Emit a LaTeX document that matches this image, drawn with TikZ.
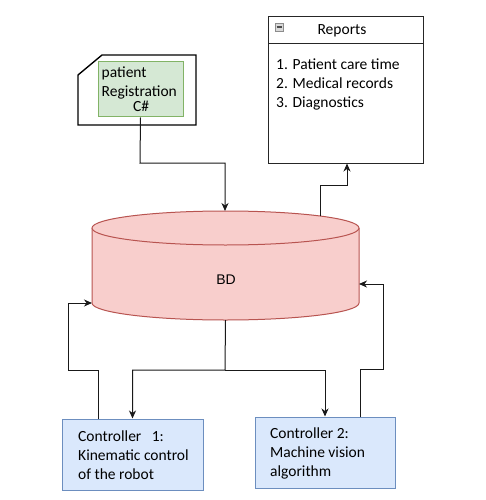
\documentclass[tikz,border=0pt]{standalone}
\usepackage{fontspec}
\setmainfont{Carlito}
\newfontfamily\helv{Liberation Sans}
\usetikzlibrary{arrows.meta,calc}
\definecolor{dbfill}{HTML}{F8CECC}
\definecolor{dbline}{HTML}{B85450}
\definecolor{gfill}{HTML}{D5E8D4}
\definecolor{gline}{HTML}{82B366}
\definecolor{bfill}{HTML}{DAE8FC}
\definecolor{bline}{HTML}{6C8EBF}
\tikzset{
  conn/.style={line width=1pt, draw=black!90, -{Stealth[length=8pt,width=7pt,inset=2.5pt]}},
  greenbox/.style={draw=gline, fill=gfill, line width=1pt, inner sep=0pt},
  bluebox/.style={draw=bline, fill=bfill, line width=1pt, inner sep=0pt},
  txt/.style={font=\fontsize{15.5}{19}\selectfont, inner sep=0pt, align=left},
  ghost/.style={inner sep=0pt}
}
\begin{document}
\begin{tikzpicture}[x=1pt,y=-1pt]
\useasboundingbox (0,0) rectangle (486,500);
\fill[white] (0,0) rectangle (486,500);

% patient card
\node[ghost, minimum width=118, minimum height=70] (card) at (137,90) {};
\draw[line width=1.4pt] (78,75) -- (102,55) -- (196,55) -- (196,125) -- (78,125) -- cycle;
\node[greenbox, minimum width=85, minimum height=55] (reg) at (140.5,89.5) {};
\node[txt, anchor=west] (t1) at (101.5,73) {patient};
\node[txt, anchor=west] (t2) at (101.5,92.5) {Registration};
\node[txt] (t3) at (141,106.5) {C\#};

% reports
\node[draw=black!85, fill=white, line width=1pt, minimum width=155, minimum height=146, inner sep=0pt] (rep) at (345.5,90) {};
\draw[black!85, line width=1pt] (268,44) -- (423,44);
\draw[fill=black!15, draw=black!45, line width=0.6pt] (275,23) rectangle (283,31);
\draw[black!70, line width=1.2pt] (276.5,27) -- (281.5,27);
\node[txt] (rt) at (342,31) {Reports};
\node[txt, anchor=north west] (items) at (276,58.5) {1. Patient care time\\2. Medical records\\3. Diagnostics};

% database cylinder
\node[ghost, minimum width=267, minimum height=109] (db) at (225.5,265.5) {};
\fill[dbfill] (92,228) -- (92,303) arc[start angle=180, end angle=0, x radius=133.5, y radius=17] -- (359,228) -- cycle;
\draw[dbline, line width=1pt] (92,228) -- (92,303) arc[start angle=180, end angle=0, x radius=133.5, y radius=17] -- (359,228);
\draw[dbline, fill=dbfill, line width=1pt] (225.5,228) ellipse[x radius=133.5, y radius=17];
\node[font=\helv\fontsize{14}{16}\selectfont, inner sep=0pt] (bd) at (226,280) {BD};

% controllers
\node[bluebox, minimum width=141, minimum height=71] (c1) at (132.5,454.5) {};
\node[txt, anchor=west] (c1t) at (78,455.5) {Controller~~~1:\\Kinematic control\\of the robot};
\node[bluebox, minimum width=140, minimum height=71] (c2) at (325,452.5) {};
\node[txt, anchor=west] (c2t) at (270,453.5) {Controller 2:\\Machine vision\\algorithm};

% connectors
\coordinate (dbin) at (225,211);
\coordinate (dbout) at (320,216);
\coordinate (dbl) at (92,303);
\coordinate (dbr) at (359,284);
\coordinate (c1up) at (98,419);
\coordinate (c2up) at (360,417);
\draw[conn] (reg.south) -- (140,163) -| (dbin);
\draw[conn] (dbout) -- (320,185) -| (347,163.5);
\draw[conn] (db.south) -- (225,370) -| (c1.north);
\draw[conn] (225,370) -| (c2.north);
\draw[conn] (c1up) -- (98,370) -| (68,303) -- (dbl);
\draw[conn] (c2up) -- (360,369) -| (383,284) -- (dbr);
\end{tikzpicture}
\end{document}
